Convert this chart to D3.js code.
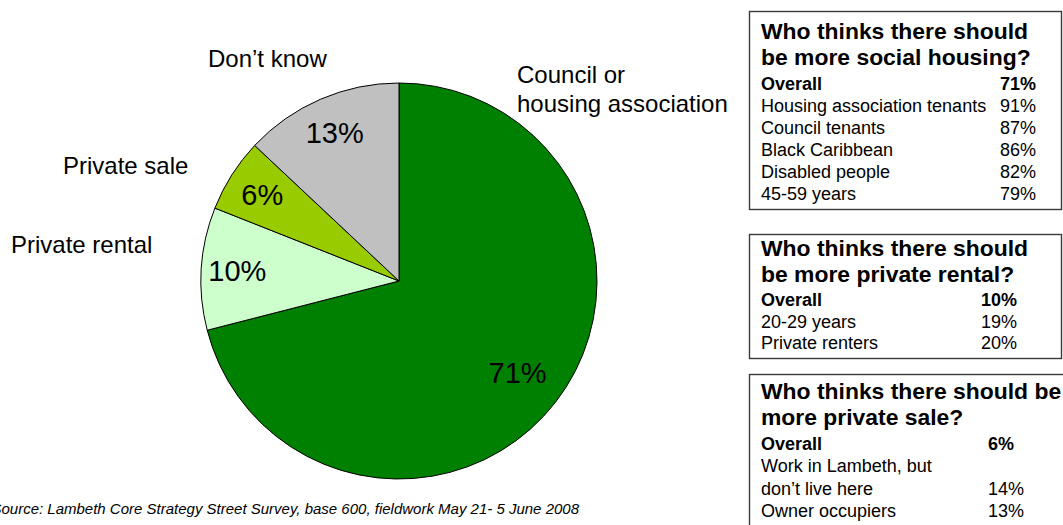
<!DOCTYPE html>
<html>
<head>
<meta charset="utf-8">
<script src="https://cdn.jsdelivr.net/npm/d3@7"></script>
<style>
  html, body { margin: 0; padding: 0; background: #fff; }
  svg { display: block; font-family: Arial, "Liberation Sans", sans-serif; }
</style>
</head>
<body>
<svg id="chart" width="1063" height="525"></svg>
<script>
// Housing tenure preferences (share of respondents, %)
const categories = ["Council or\nhousing association", "Private rental", "Private sale", "Don\u2019t know"];
const values = [71, 10, 6, 13];
const sliceColors = ["#008000", "#CCFFCC", "#99CC00", "#C0C0C0"];

// Breakdown panels
const socialTitle = ["Who thinks there should", "be more social housing?"];
const socialGroups = ["Overall", "Housing association tenants", "Council tenants", "Black Caribbean", "Disabled people", "45-59 years"];
const socialValues = [71, 91, 87, 86, 82, 79];

const rentalTitle = ["Who thinks there should", "be more private rental?"];
const rentalGroups = ["Overall", "20-29 years", "Private renters"];
const rentalValues = [10, 19, 20];

const saleTitle = ["Who thinks there should be", "more private sale?"];
const saleGroups = ["Overall", "Work in Lambeth, but\ndon\u2019t live here", "Owner occupiers"];
const saleValues = [6, 14, 13];

const sourceNote = "Source: Lambeth Core Strategy Street Survey, base 600, fieldwork May 21- 5 June 2008";

const svg = d3.select("#chart");

// ---- Pie ----
const cx = 399, cy = 281, R = 198;
const pie = d3.pie().sort(null).value(d => d);
const arcs = pie(values);
const arc = d3.arc().innerRadius(0).outerRadius(R);
// large slice label sits a little further in than the narrow ones
const labelRadius = d => (d.endAngle - d.startAngle > Math.PI ? 150 : 162);

const g = svg.append("g").attr("transform", `translate(${cx},${cy})`);
g.selectAll("path.slice")
  .data(arcs)
  .join("path")
  .attr("class", "slice")
  .attr("d", arc)
  .attr("fill", (d, i) => sliceColors[i])
  .attr("stroke", "#000")
  .attr("stroke-width", 1);

g.selectAll("text.pct")
  .data(arcs)
  .join("text")
  .attr("class", "pct")
  .attr("transform", d => {
    const r = labelRadius(d);
    const [x, y] = d3.arc().innerRadius(r).outerRadius(r).centroid(d);
    return `translate(${x},${y})`;
  })
  .attr("text-anchor", "middle")
  .attr("dy", "0.36em")
  .attr("font-size", 29)
  .attr("fill", "#000")
  .text(d => d.data + "%");

// Category label placement (left edge / first baseline)
const catPos = [
  { x: 517, y: 83 },
  { x: 11, y: 253 },
  { x: 63, y: 174 },
  { x: 208, y: 67 }
];
categories.forEach((c, i) => {
  const t = svg.append("text")
    .attr("x", catPos[i].x)
    .attr("y", catPos[i].y)
    .attr("font-size", 24)
    .attr("fill", "#000");
  c.split("\n").forEach((line, j) => {
    t.append("tspan").attr("x", catPos[i].x).attr("dy", j === 0 ? 0 : 29).text(line);
  });
});

// ---- Breakdown panels ----
function panel(cfg) {
  const p = svg.append("g");
  p.append("rect")
    .attr("x", 749.5).attr("y", cfg.top + 0.5)
    .attr("width", cfg.width).attr("height", cfg.height)
    .attr("fill", "#fff")
    .attr("stroke", "#3a3a3a")
    .attr("stroke-width", 1.4);
  cfg.title.forEach((line, j) => {
    p.append("text")
      .attr("x", 761).attr("y", cfg.titleY + j * 26)
      .attr("font-size", 22.9).attr("font-weight", "bold")
      .attr("fill", "#000").text(line);
  });
  let y = cfg.rowY;
  cfg.groups.forEach((grp, i) => {
    const lines = grp.split("\n");
    const bold = i === 0 ? "bold" : "normal";
    lines.forEach((line, k) => {
      p.append("text")
        .attr("x", 761).attr("y", y + k * cfg.rowStep)
        .attr("font-size", 18).attr("font-weight", bold)
        .attr("fill", "#000").text(line);
    });
    const vy = y + (lines.length - 1) * cfg.rowStep;
    p.append("text")
      .attr("x", cfg.valX)
      .attr("y", vy)
      .attr("text-anchor", cfg.valAnchor)
      .attr("font-size", 18).attr("font-weight", bold)
      .attr("fill", "#000").text(cfg.values[i] + "%");
    y += lines.length * cfg.rowStep;
  });
}

panel({ top: 11, width: 312, height: 198, title: socialTitle, titleY: 39, rowY: 90, rowStep: 22,
        groups: socialGroups, values: socialValues, valX: 1036, valAnchor: "end" });
panel({ top: 234, width: 312, height: 124, title: rentalTitle, titleY: 256, rowY: 306, rowStep: 21.5,
        groups: rentalGroups, values: rentalValues, valX: 1017, valAnchor: "end" });
panel({ top: 374, width: 340, height: 200, title: saleTitle, titleY: 399, rowY: 450, rowStep: 22.3,
        groups: saleGroups, values: saleValues, valX: 988, valAnchor: "start" });

// ---- Source note ----
svg.append("text")
  .attr("x", 579).attr("y", 514)
  .attr("text-anchor", "end")
  .attr("font-size", 15)
  .attr("font-style", "italic")
  .attr("fill", "#000")
  .text(sourceNote);
</script>
</body>
</html>
